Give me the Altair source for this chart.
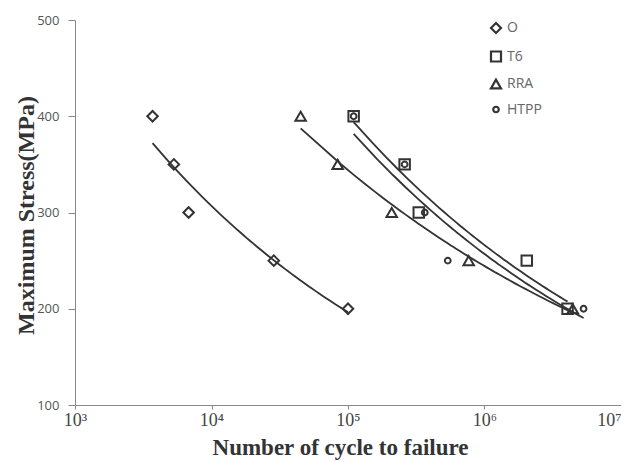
import altair as alt
import pandas as pd

series_names = ["O", "T6", "RRA", "HTPP"]
stress_levels = [400, 350, 300, 250, 200]
cycles_O = [3700, 5300, 6800, 28600, 100000]
cycles_T6 = [110000, 260000, 330000, 2040000, 4060000]
cycles_RRA = [45000, 84000, 209000, 766000, 4430000]
cycles_HTPP = [110000, 260000, 365000, 538000, 5320000]
small_circle = "M0,-0.55A0.55,0.55 0 1,1 0,0.55A0.55,0.55 0 1,1 0,-0.55Z"
marker_shapes = ["diamond", "square", "triangle-up", small_circle]
x_ticks = [1e3, 1e4, 1e5, 1e6, 1e7]
x_tick_labels = ["10³", "10⁴", "10⁵", "10⁶", "10⁷"]
y_ticks = [100, 200, 300, 400, 500]

rows = []
for name, cyc in zip(series_names, [cycles_O, cycles_T6, cycles_RRA, cycles_HTPP]):
    for n, s in zip(cyc, stress_levels):
        rows.append({"series": name, "N": n, "S": s})
df = pd.DataFrame(rows)

label_expr = ""
for v, l in zip(x_ticks, x_tick_labels):
    label_expr += f"datum.value == {int(v)} ? '{l}' : "
label_expr += "''"

x_scale = alt.Scale(type="log", domain=[1e3, 1e7], nice=False)
y_scale = alt.Scale(domain=[100, 500], nice=False, zero=False)

x_enc = alt.X(
    "N:Q",
    scale=x_scale,
    axis=alt.Axis(
        values=x_ticks, labelExpr=label_expr, grid=False,
        title="Number of cycle to failure",
        titleFont="Liberation Serif", titleFontSize=23, titleFontWeight="bold",
        titleColor="#333333", titleX=265, titleY=49, titleAlign="center",
        titleBaseline="alphabetic",
        labelFont="Liberation Serif", labelFontSize=18, labelColor="#444444",
        labelPadding=2, tickSize=4, tickColor="#888888", domainColor="#888888",
        labelFlush=False, labelOverlap=False,
        labelAlign={"condition": {"test": f"datum.value == {int(x_ticks[-1])}", "value": "right"},
                    "value": "center"},
    ),
)
y_enc = alt.Y(
    "S:Q",
    scale=y_scale,
    axis=alt.Axis(
        values=y_ticks, grid=False, title="Maximum Stress(MPa)",
        titleFont="Liberation Serif", titleFontSize=24, titleFontWeight="bold",
        titleColor="#333333", titleX=-42, titleY=195, titleAngle=-90,
        titleAlign="center", titleBaseline="alphabetic",
        labelFont="Open Sans", labelFontSize=13, labelColor="#555555",
        labelPadding=9, tickSize=7, tickColor="#888888", domainColor="#888888",
        labelFlush=False,
    ),
)

points = alt.Chart(df).mark_point(filled=False, stroke="#333333", strokeWidth=2, opacity=1, size=110).encode(
    x=x_enc,
    y=y_enc,
    shape=alt.Shape("series:N", scale=alt.Scale(domain=series_names, range=marker_shapes),
                    legend=alt.Legend(title=None, orient="none", legendX=414, legendY=1,
                                      labelFont="Open Sans", labelFontSize=14, labelColor="#666666",
                                      symbolStrokeColor="#333333", symbolStrokeWidth=2.2,
                                      symbolFillColor="transparent", symbolSize=100,
                                      rowPadding=8.5, padding=0, labelOffset=4)),
)

lines = alt.Chart(df).transform_regression(
    "N", "S", method="pow", groupby=["series"]
).mark_line(color="#333333", strokeWidth=1.8).encode(
    x=alt.X("N:Q", scale=x_scale),
    y=alt.Y("S:Q", scale=y_scale),
    detail="series:N",
)

chart = alt.layer(lines, points).properties(
    width=546, height=385,
    autosize=alt.AutoSizeParams(type="none"),
    padding={"left": 67, "top": 12, "right": 0, "bottom": 57},
    background="white",
).configure_view(stroke=None)

chart.save("out.html", embed_options={"renderer": "svg", "actions": False})
